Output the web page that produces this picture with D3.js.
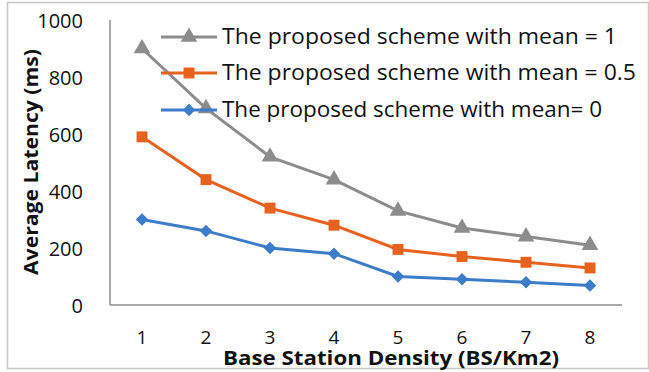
<!DOCTYPE html>
<html>
<head>
<meta charset="utf-8">
<script src="https://cdn.jsdelivr.net/npm/d3@7"></script>
<style>
  html, body { margin: 0; padding: 0; background: #fff; }
  svg { display: block; }
  text { font-family: "Open Sans", "Noto Sans", sans-serif; fill: #111; }
</style>
</head>
<body>
<svg id="chart" width="649" height="372"></svg>
<script>
// Base station density (BS/Km2)
const densities = [1, 2, 3, 4, 5, 6, 7, 8];
// Average latency (ms) per scheme
const latencyMean1 = [900, 690, 520, 440, 330, 270, 240, 210];
const latencyMean05 = [590, 440, 340, 280, 195, 170, 150, 130];
const latencyMean0 = [300, 260, 200, 180, 100, 90, 80, 68];
const yTicks = [0, 200, 400, 600, 800, 1000];
const seriesNames = [
  "The proposed scheme with mean = 1",
  "The proposed scheme with mean = 0.5",
  "The proposed scheme with mean= 0"
];

const series = [
  { name: seriesNames[0], values: latencyMean1, color: "#8c8c8c", marker: d3.symbolTriangle, size: 120, rot: 0, legendLen: 395 },
  { name: seriesNames[1], values: latencyMean05, color: "#e8621f", marker: d3.symbolSquare, size: 120, rot: 0, legendLen: 414 },
  { name: seriesNames[2], values: latencyMean0, color: "#3d7cc9", marker: d3.symbolSquare, size: 78, rot: 45, legendLen: 380 }
];

const svg = d3.select("#chart");

// outer frame
svg.append("rect")
  .attr("x", 7.5).attr("y", 2.5).attr("width", 641).attr("height", 366)
  .attr("fill", "none").attr("stroke", "#c8c8c8").attr("stroke-width", 1.5);

const plot = { left: 110, right: 622, top: 20, bottom: 305 };

const x = d3.scaleBand().domain(densities).range([plot.left, plot.right]);
const y = d3.scaleLinear().domain([0, 1000]).range([plot.bottom, plot.top]);
const cx = d => x(d) + x.bandwidth() / 2;

// y tick labels
const yAxis = svg.append("g")
  .attr("transform", `translate(${plot.left},0)`)
  .call(d3.axisLeft(y).tickValues(yTicks).tickFormat(d3.format("d")).tickSize(0).tickPadding(27));
yAxis.select(".domain").remove();
yAxis.selectAll("text")
  .style("font-size", "20px")
  .attr("fill", "#111")
  .attr("dy", "0.35em");

// x tick labels
const xAxis = svg.append("g")
  .attr("transform", `translate(0,${plot.bottom})`)
  .call(d3.axisBottom(x).tickSize(0));
xAxis.select(".domain").remove();
xAxis.selectAll("text")
  .style("font-size", "19px")
  .attr("fill", "#111")
  .attr("dy", "0.35em")
  .attr("y", 32);

// axis lines
svg.append("line")
  .attr("x1", plot.left).attr("x2", plot.left)
  .attr("y1", y(1000)).attr("y2", plot.bottom)
  .attr("stroke", "#8c8c8c").attr("stroke-width", 1.5);
svg.append("line")
  .attr("x1", plot.left).attr("x2", plot.right)
  .attr("y1", plot.bottom).attr("y2", plot.bottom)
  .attr("stroke", "#8c8c8c").attr("stroke-width", 1.5);

// series lines and markers
const line = d3.line().x((d, i) => cx(densities[i])).y(d => y(d));
series.forEach(s => {
  svg.append("path")
    .datum(s.values)
    .attr("d", line)
    .attr("fill", "none")
    .attr("stroke", s.color)
    .attr("stroke-width", 3);
  svg.append("g").selectAll("path")
    .data(s.values)
    .join("path")
    .attr("d", d3.symbol().type(s.marker).size(s.size))
    .attr("transform", (d, i) => `translate(${cx(densities[i])},${y(d)}) rotate(${s.rot})`)
    .attr("fill", s.color);
});

// legend
const legendRows = [37, 73, 110];
series.forEach((s, i) => {
  const g = svg.append("g").attr("transform", `translate(0,${legendRows[i]})`);
  g.append("line")
    .attr("x1", 161).attr("x2", 217).attr("y1", 0).attr("y2", 0)
    .attr("stroke", s.color).attr("stroke-width", 3);
  g.append("path")
    .attr("d", d3.symbol().type(s.marker).size(s.size))
    .attr("transform", `translate(189,0) rotate(${s.rot})`)
    .attr("fill", s.color);
  g.append("text")
    .attr("x", 222).attr("y", 0)
    .attr("dy", "0.35em")
    .attr("textLength", s.legendLen)
    .attr("lengthAdjust", "spacingAndGlyphs")
    .style("font-size", "21px")
    .text(s.name);
});

// axis titles
svg.append("text")
  .attr("transform", "translate(38,162) rotate(-90)")
  .attr("text-anchor", "middle")
  .attr("textLength", 226)
  .attr("lengthAdjust", "spacingAndGlyphs")
  .style("font-size", "20px")
  .style("font-weight", "bold")
  .text("Average Latency (ms)");

svg.append("text")
  .attr("x", 391).attr("y", 365)
  .attr("text-anchor", "middle")
  .attr("textLength", 336)
  .attr("lengthAdjust", "spacingAndGlyphs")
  .style("font-size", "20px")
  .style("font-weight", "bold")
  .text("Base Station Density (BS/Km2)");
</script>
</body>
</html>
